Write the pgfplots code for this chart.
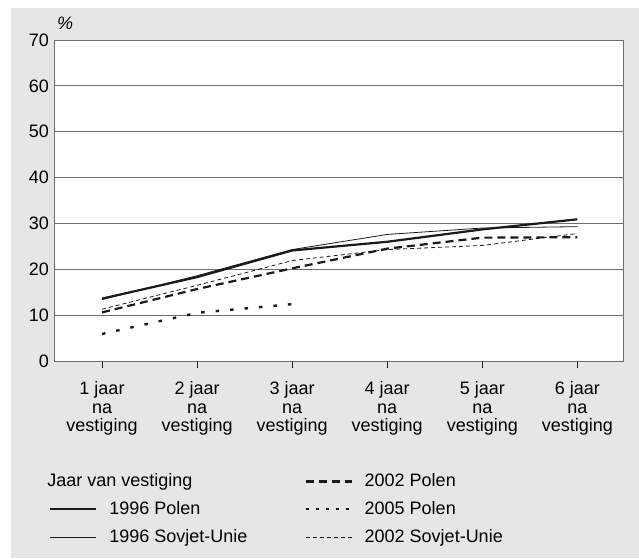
\documentclass[border=0pt]{standalone}
\usepackage{fontspec}
\setmainfont{Liberation Sans}
\usepackage{pgfplots}
\pgfplotsset{compat=1.18}
\definecolor{bggray}{HTML}{E6E6E7}
\definecolor{gridgray}{HTML}{6E6E6E}
\definecolor{linec}{HTML}{1A1A1A}
\begin{document}
\fontsize{18}{19}\selectfont
\begin{tikzpicture}
\fill[white] (0pt,0pt) rectangle (639pt,558pt);
\fill[bggray] (11pt,0pt) rectangle (639pt,550pt);
\begin{axis}[
  at={(54pt,197pt)}, anchor=south west,
  scale only axis, width=569pt, height=321pt,
  xmin=0.495, xmax=6.48, ymin=0, ymax=70,
  clip=false,
  axis background/.style={fill=white},
  axis line style={draw=gridgray, line width=0.9pt},
  xtick={1,2,3,4,5,6},
  xticklabels={1 jaar\\na\\vestiging, 2 jaar\\na\\vestiging, 3 jaar\\na\\vestiging, 4 jaar\\na\\vestiging, 5 jaar\\na\\vestiging, 6 jaar\\na\\vestiging},
  xticklabel style={align=center, font=\fontsize{18}{18.8}\selectfont, inner sep=2pt, yshift=-11pt},
  xtick pos=bottom,
  xtick align=outside, major tick length=7pt,
  xtick style={draw=linec, line width=0.8pt},
  ytick={0,10,...,70},
  ytick pos=left,
  ytick align=inside, ytick style={draw=none},
  yticklabel style={font=\fontsize{18}{18}\selectfont, inner sep=2pt, xshift=-3pt},
  /pgf/number format/assume math mode=true,
  ymajorgrids, grid style={draw=gridgray, line width=0.9pt},
  legend columns=2,
  legend cell align=left,
  legend style={at={(axis description cs:-0.014,-0.338)}, anchor=north west,
    draw=none, fill=none, font=\fontsize{18}{18}\selectfont,
    row sep=8pt,
    /tikz/column 2/.style={column sep=55pt},
  },
  legend image code/.code={\draw[#1] (0pt,0pt) -- (46pt,0pt); \path (56pt,0pt);},
]
\addplot[linec, line width=2.2pt, forget plot] coordinates {(1,13.6) (2,18.3) (3,24.1) (4,26.0) (5,28.7) (6,30.9)};
\addplot[linec, line width=0.8pt, forget plot] coordinates {(1,13.4) (2,18.6) (3,24.3) (4,27.6) (5,29.0) (6,29.3)};
\addplot[linec, line width=2.2pt, dash pattern=on 8pt off 5pt, forget plot] coordinates {(1,10.6) (2,15.7) (3,20.2) (4,24.5) (5,26.9) (6,27.0)};
\addplot[linec, line width=2.4pt, dash pattern=on 3.5pt off 11pt, forget plot] coordinates {(1,5.9) (2,10.5) (3,12.4)};
\addplot[linec, line width=0.8pt, dash pattern=on 4pt off 3pt, forget plot] coordinates {(1,11.3) (2,16.5) (3,21.9) (4,24.3) (5,25.2) (6,27.8)};
\addlegendimage{empty legend}
\addlegendentry{\hspace{-62pt}Jaar van vestiging}
\addlegendimage{linec, line width=2.2pt, dash pattern=on 8pt off 5pt}
\addlegendentry{2002 Polen}
\addlegendimage{linec, line width=2.2pt}
\addlegendentry{1996 Polen}
\addlegendimage{linec, line width=2.2pt, dash pattern=on 3pt off 7pt}
\addlegendentry{2005 Polen}
\addlegendimage{linec, line width=0.8pt}
\addlegendentry{1996 Sovjet-Unie}
\addlegendimage{linec, line width=0.8pt, dash pattern=on 4pt off 3pt}
\addlegendentry{2002 Sovjet-Unie}
\node[anchor=south west, font=\itshape\fontsize{18}{18}\selectfont, inner sep=1pt, xshift=2pt, yshift=9pt] at (rel axis cs:0,1) {\%};
\end{axis}
\end{tikzpicture}
\end{document}
